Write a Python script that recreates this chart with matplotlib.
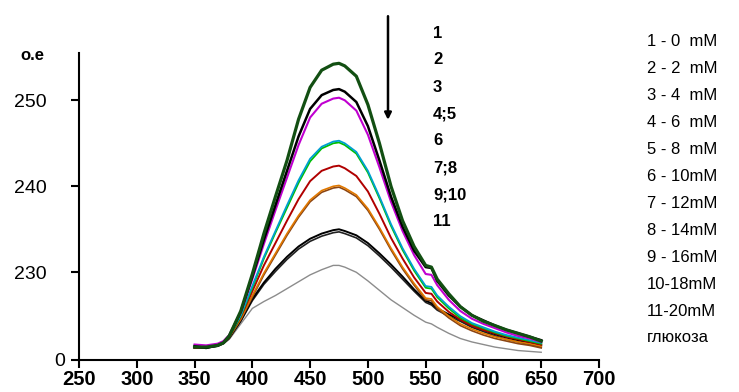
import numpy as np
import matplotlib
matplotlib.use("Agg")
import matplotlib.pyplot as plt

plt.rcParams['font.family'] = ['Liberation Sans', 'DejaVu Sans']

# длины волн, нм
wl = [350, 360, 370, 375, 380, 390, 400, 410, 420, 430, 440, 450, 460, 470, 475,
      480, 490, 500, 510, 520, 530, 540, 550, 555, 560, 570, 580, 590, 600, 610,
      620, 630, 640, 650]

s1 = [221.3, 221.3, 221.5, 221.8, 222.6, 225.5, 229.8, 234.5, 238.8, 243.0, 247.8, 251.5,
      253.5, 254.2, 254.3, 254.0, 252.8, 249.5, 245.0, 240.0, 236.0, 233.0, 230.8, 230.6,
      229.2, 227.5, 226.0, 225.0, 224.3, 223.8, 223.3, 222.9, 222.5, 222.0]
s2 = [221.4, 221.2, 221.5, 221.8, 222.6, 225.4, 229.5, 233.8, 237.8, 241.8, 245.8, 249.0,
      250.6, 251.2, 251.3, 251.0, 249.8, 247.0, 243.0, 238.8, 235.3, 232.5, 230.6, 230.5,
      229.0, 227.3, 226.0, 225.0, 224.4, 223.8, 223.3, 222.9, 222.5, 222.1]
s3 = [221.6, 221.5, 221.7, 222.0, 222.7, 225.3, 229.2, 233.3, 237.2, 241.0, 244.8, 248.0,
      249.6, 250.2, 250.3, 250.0, 248.8, 246.0, 242.2, 238.2, 234.8, 232.0, 229.8, 229.7,
      228.5, 226.8, 225.5, 224.6, 224.0, 223.5, 223.0, 222.6, 222.3, 221.9]
s4 = [221.5, 221.4, 221.6, 221.9, 222.6, 225.0, 228.4, 231.8, 234.8, 237.8, 240.7, 243.2,
      244.6, 245.2, 245.3, 245.0, 244.0, 241.8, 238.8, 235.6, 232.8, 230.4, 228.4, 228.3,
      227.3, 226.0, 224.9, 224.1, 223.6, 223.1, 222.7, 222.4, 222.1, 221.8]
s5 = [221.3, 221.3, 221.5, 221.8, 222.5, 224.9, 228.2, 231.6, 234.6, 237.5, 240.4, 242.9,
      244.4, 245.0, 245.1, 244.8, 243.8, 241.6, 238.6, 235.4, 232.6, 230.2, 228.2, 228.1,
      227.1, 225.8, 224.7, 224.0, 223.5, 223.0, 222.6, 222.3, 222.0, 221.7]
s6 = [221.2, 221.3, 221.5, 221.8, 222.5, 224.8, 227.8, 230.8, 233.4, 236.0, 238.5, 240.6,
      241.8, 242.3, 242.4, 242.1, 241.2, 239.4, 236.8, 234.0, 231.6, 229.4, 227.6, 227.5,
      226.6, 225.4, 224.5, 223.8, 223.3, 222.9, 222.5, 222.2, 221.9, 221.6]
s7 = [221.4, 221.4, 221.6, 221.9, 222.5, 224.6, 227.3, 229.9, 232.2, 234.5, 236.6, 238.4,
      239.5, 240.0, 240.1, 239.8, 239.0, 237.4, 235.2, 232.8, 230.6, 228.7, 227.0, 226.9,
      226.0, 224.9, 224.0, 223.4, 222.9, 222.5, 222.2, 221.9, 221.7, 221.4]
s8 = [221.3, 221.3, 221.5, 221.8, 222.4, 224.5, 227.1, 229.7, 232.0, 234.3, 236.4, 238.2,
      239.3, 239.8, 239.9, 239.6, 238.8, 237.2, 235.0, 232.6, 230.4, 228.5, 226.8, 226.7,
      225.8, 224.7, 223.8, 223.2, 222.7, 222.3, 222.0, 221.7, 221.5, 221.2]
s9 = [221.3, 221.3, 221.5, 221.8, 222.4, 224.4, 226.9, 228.8, 230.4, 231.8, 233.0, 233.9,
      234.5, 234.9, 235.0, 234.8, 234.3, 233.4, 232.2, 230.9, 229.5, 228.0, 226.7, 226.4,
      225.8, 225.1, 224.5, 223.8, 223.3, 222.8, 222.4, 222.1, 221.8, 221.5]
s10 = [221.2, 221.2, 221.4, 221.7, 222.3, 224.3, 226.7, 228.6, 230.1, 231.5, 232.7, 233.6,
       234.2, 234.6, 234.7, 234.5, 234.0, 233.1, 231.9, 230.6, 229.2, 227.8, 226.5, 226.2,
       225.6, 224.9, 224.3, 223.6, 223.1, 222.6, 222.2, 221.9, 221.6, 221.3]
s11 = [221.2, 221.2, 221.4, 221.7, 222.2, 224.0, 225.8, 226.6, 227.3, 228.1, 228.9, 229.7,
       230.3, 230.8, 230.8, 230.6, 230.0, 229.0, 227.9, 226.8, 225.9, 225.0, 224.2, 224.0,
       223.6, 222.9, 222.3, 221.9, 221.6, 221.3, 221.1, 220.9, 220.8, 220.7]

series = [s11, s10, s9, s8, s7, s6, s5, s4, s3, s2, s1]
colors = ['#8c8c8c', '#202020', '#000000', '#8b4513', '#e07800', '#b00000',
          '#00c000', '#00a0d0', '#c000d0', '#000000', '#124f12']
widths = [1.0, 1.2, 1.4, 1.2, 1.2, 1.4, 1.3, 1.3, 1.5, 1.8, 2.3]

curve_labels = ['1', '2', '3', '4;5', '6', '7;8', '9;10', '11']
legend_lines = ['1 - 0  mM', '2 - 2  mM', '3 - 4  mM', '4 - 6  mM', '5 - 8  mM',
                '6 - 10mM', '7 - 12mM', '8 - 14mM', '9 - 16mM', '10-18mM',
                '11-20mM', 'глюкоза']

W, H = 739, 392
fig = plt.figure(figsize=(W / 100, H / 100), dpi=100)
ax = fig.add_axes([79 / W, (H - 360) / H, 520 / W, 307 / H])

for s, c, lw in zip(series, colors, widths):
    ax.plot(wl, s, color=c, lw=lw)

ax.set_xlim(250, 700)
ax.set_ylim(219.8, 255.5)
ax.set_xticks(np.arange(250, 701, 50))
ax.set_xticklabels([str(v) for v in range(250, 701, 50)], fontsize=14.5, fontweight='bold')
ax.set_yticks([219.8, 230, 240, 250])
ax.set_yticklabels(['0', '230', '240', '250'], fontsize=14)
ax.tick_params(direction='out', length=6, width=1.5)
ax.tick_params(axis='x', pad=1)
ax.tick_params(axis='y', pad=17)
ax.yaxis.get_major_ticks()[0].set_pad(4)
for side in ['top', 'right']:
    ax.spines[side].set_visible(False)
for side in ['left', 'bottom']:
    ax.spines[side].set_linewidth(1.5)

fig.text(20 / W, 1 - 56 / H, 'о.е', fontsize=12, fontweight='bold', va='center')

# стрелка
ax.annotate('', xy=(517.4, 247.4), xytext=(517.4, 260.1), xycoords='data',
            arrowprops=dict(arrowstyle='-|>', color='black', lw=1.8,
                            mutation_scale=10), annotation_clip=False)

for i, t in enumerate(curve_labels):
    fig.text(433 / W, 1 - (33 + 27 * i) / H, t, fontsize=12, fontweight='bold', va='center')

for i, t in enumerate(legend_lines):
    fig.text(647 / W, 1 - (42 + 26.9 * i) / H, t, fontsize=12, va='center')

plt.savefig('out.png', dpi=100)
